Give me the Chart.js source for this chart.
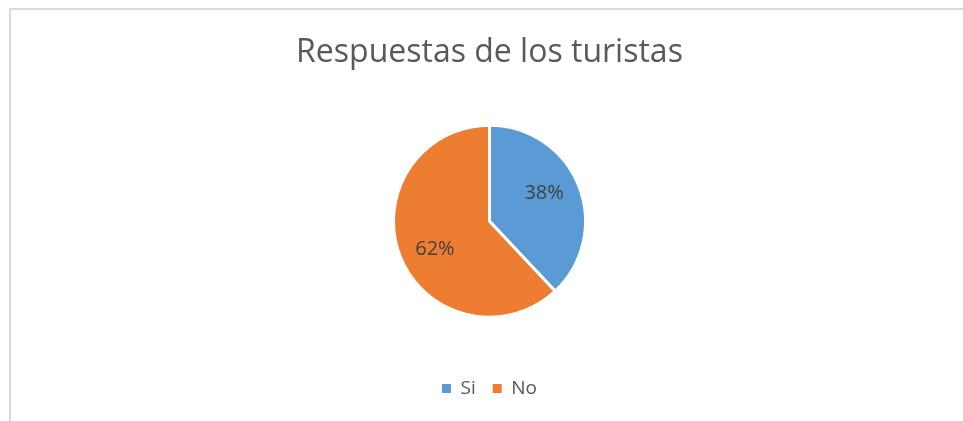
<!DOCTYPE html>
<html>
<head>
<meta charset="utf-8">
<script src="https://cdn.jsdelivr.net/npm/chart.js@4/dist/chart.umd.min.js"></script>
<style>
  html, body { margin: 0; padding: 0; background: #ffffff; }
  #wrap { position: relative; width: 963px; height: 421px; overflow: hidden; }
  #frame { position: absolute; left: 9px; top: 8px; width: 1000px; height: 500px;
           border-left: 2px solid #d9d9d9; border-top: 2px solid #d9d9d9; box-sizing: border-box; }
  canvas { position: absolute; left: 0; top: 0; }
</style>
</head>
<body>
<div id="wrap">
  <div id="frame"></div>
  <canvas id="c" width="963" height="421"></canvas>
</div>
<script>
const categories = ["Si", "No"];
const values = [38, 62];
const sliceColors = ["#5B9BD5", "#ED7D31"];
const chartTitle = "Respuestas de los turistas";

const FONT = "'Open Sans', 'Noto Sans', sans-serif";

const pctLabels = {
  id: 'pctLabels',
  afterDatasetsDraw(chart, args, opts) {
    const ctx = chart.ctx;
    const meta = chart.getDatasetMeta(0);
    const data = chart.data.datasets[0].data;
    const total = data.reduce((a, b) => a + b, 0);
    ctx.save();
    ctx.font = opts.fontSize + "px " + FONT;
    ctx.fillStyle = opts.color;
    ctx.textAlign = 'center';
    ctx.textBaseline = 'middle';
    meta.data.forEach((arc, i) => {
      const p = arc.getProps(['x', 'y', 'startAngle', 'endAngle', 'outerRadius'], true);
      const mid = (p.startAngle + p.endAngle) / 2 + opts.angleShift;
      const r = p.outerRadius * opts.radiusFraction;
      const x = p.x + Math.cos(mid) * r;
      const y = p.y + Math.sin(mid) * r;
      ctx.fillText(Math.round(data[i] / total * 100) + "%", x, y);
    });
    ctx.restore();
  }
};

new Chart(document.getElementById('c'), {
  type: 'pie',
  data: {
    labels: categories,
    datasets: [{
      data: values,
      backgroundColor: sliceColors,
      borderColor: '#ffffff',
      borderWidth: 3,
      radius: 96
    }]
  },
  options: {
    responsive: false,
    animation: false,
    layout: { padding: { left: 16, right: 0, top: 0, bottom: 13 } },
    plugins: {
      title: {
        display: true,
        text: chartTitle,
        color: '#595959',
        font: { family: FONT, size: 32, weight: 'normal' },
        padding: { top: 34, bottom: 8 }
      },
      legend: {
        display: true,
        position: 'bottom',
        labels: {
          color: '#595959',
          font: { family: FONT, size: 19 },
          boxWidth: 9,
          boxHeight: 9,
          padding: 17,
          generateLabels(chart) {
            const items = Chart.overrides.pie.plugins.legend.labels.generateLabels(chart);
            items.forEach(it => { it.lineWidth = 0; it.strokeStyle = it.fillStyle; });
            return items;
          }
        }
      },
      tooltip: { enabled: false },
      pctLabels: { fontSize: 20, color: '#404040', radiusFraction: 0.64, angleShift: -0.1 }
    }
  },
  plugins: [pctLabels]
});
</script>
</body>
</html>
